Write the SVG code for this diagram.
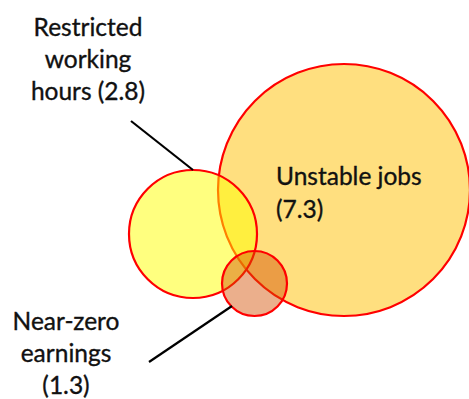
<svg xmlns="http://www.w3.org/2000/svg" width="469" height="399" viewBox="0 0 469 399">
<style>
.c{stroke:#ff0000;stroke-width:2.2}
.lbl{font-family:Lato,"Open Sans","Liberation Sans",sans-serif;font-size:24.5px;fill:#111;stroke:#111;stroke-width:0.35}
.mid{text-anchor:middle}
.ln{stroke:#000;stroke-width:2.2;fill:none}
</style>
<rect width="469" height="399" fill="#ffffff"/>
<g id="unstable-jobs">
<circle class="c" cx="344" cy="190" r="126" fill="#ffc000" fill-opacity="0.5"/>
<text class="lbl" x="276" y="185">Unstable jobs</text>
<text class="lbl" x="276" y="218">(7.3)</text>
</g>
<g id="restricted-hours">
<circle class="c" cx="193" cy="234" r="64" fill="#ffff00" fill-opacity="0.5"/>
<text class="lbl mid" x="88" y="36">Restricted</text>
<text class="lbl mid" x="88" y="68">working</text>
<text class="lbl mid" x="88" y="100">hours (2.8)</text>
</g>
<g id="near-zero-earnings">
<circle class="c" cx="254.5" cy="283.5" r="32.5" fill="#d34e00" fill-opacity="0.45"/>
<text class="lbl mid" x="66" y="330">Near-zero</text>
<text class="lbl mid" x="66" y="362">earnings</text>
<text class="lbl mid" x="66" y="394">(1.3)</text>
</g>
<g id="connectors">
<line class="ln" x1="131" y1="121" x2="193" y2="170"/>
<line class="ln" x1="149" y1="362" x2="232" y2="306"/>
</g>
</svg>
